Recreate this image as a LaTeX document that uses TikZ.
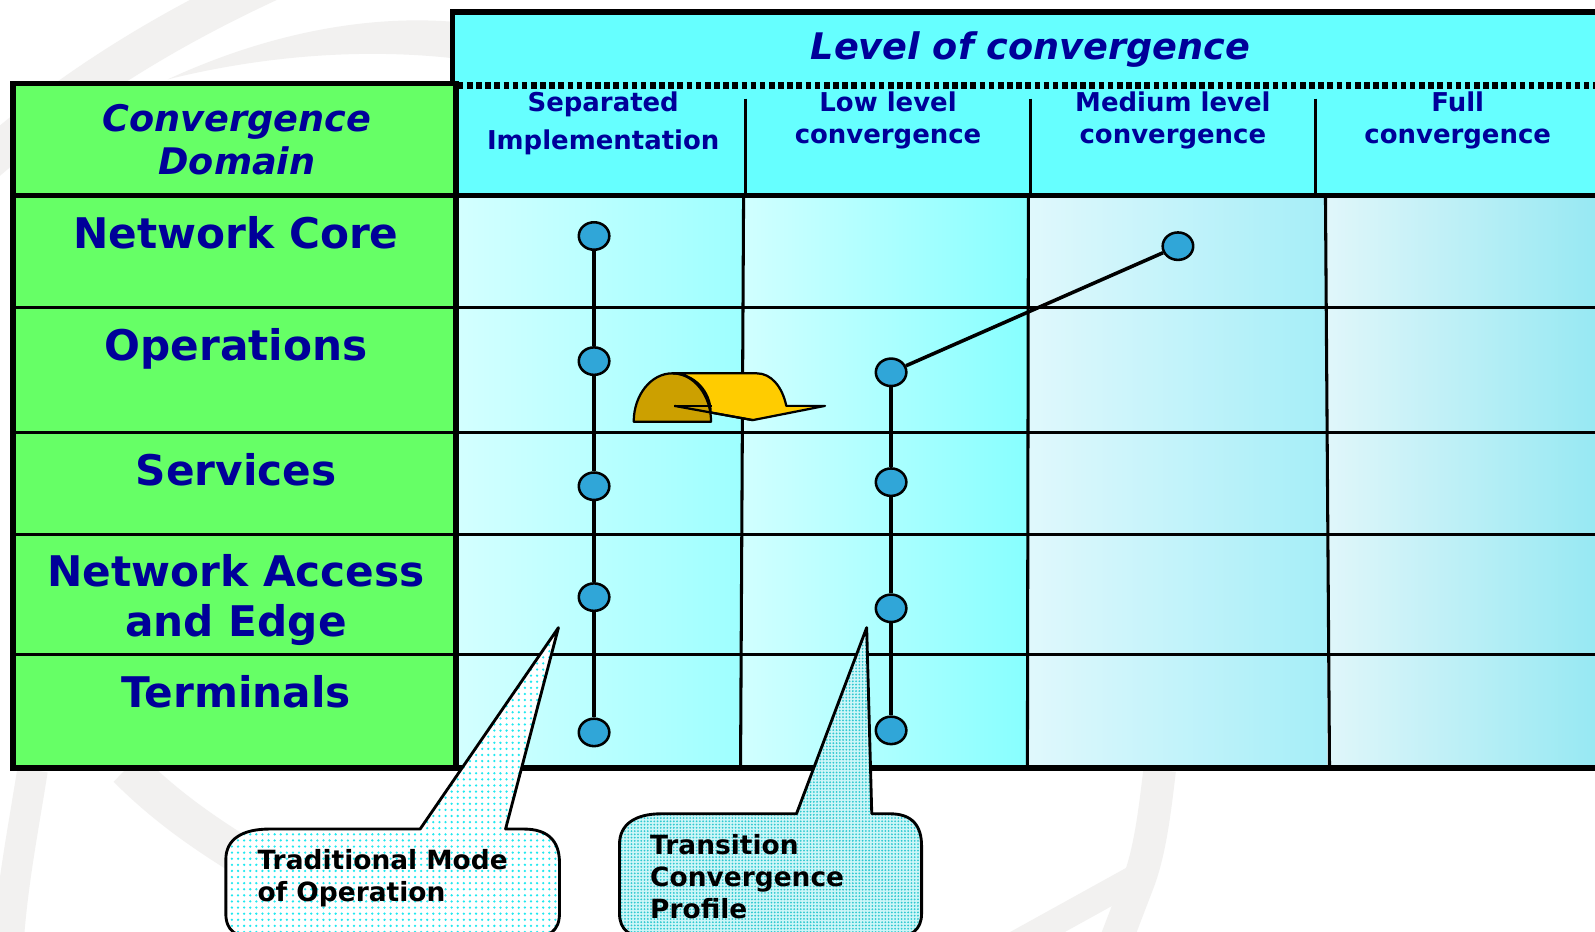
\documentclass[tikz,border=0pt]{standalone}
\usepackage{fontspec}
\setmainfont{DejaVu Sans}
\usetikzlibrary{shapes.geometric,patterns.meta}
\definecolor{navy}{HTML}{000099}
\definecolor{hdr}{HTML}{66FFFF}
\definecolor{grn}{HTML}{66FF66}
\definecolor{dotblue}{HTML}{30A6D8}
\definecolor{golddark}{HTML}{CCA000}
\definecolor{goldlight}{HTML}{FFCC00}
\definecolor{wm}{HTML}{F2F1F0}
\definecolor{cya}{HTML}{20E8F0}
\definecolor{cyb}{HTML}{30C8D0}
\newcommand{\mylines}[1]{\begin{tabular}[t]{@{}c@{}}#1\end{tabular}}
\newcommand{\mylinesl}[1]{\begin{tabular}[t]{@{}l@{}}#1\end{tabular}}
\tikzset{
  dot/.style={ellipse, draw=black, line width=2.5, fill=dotblue, minimum width=30, minimum height=27, inner sep=0},
  conn/.style={line width=3.5, black},
  thickb/.style={line width=5.5, black, line cap=rect},
  thinl/.style={line width=3, black},
  rowlab/.style={anchor=base, inner sep=0, text=navy, font=\fontsize{41.5}{49}\selectfont\bfseries},
  collab/.style={anchor=base, inner sep=0, text=navy, font=\fontsize{25.5}{31}\selectfont\bfseries},
  calltxt/.style={anchor=base west, inner sep=0, text=black, font=\fontsize{26}{31.5}\selectfont\bfseries},
  wmark/.style={draw=wm, line cap=butt},
  outl/.style={line width=2.2, black, line join=round}
}
\begin{document}
\begin{tikzpicture}[x=1pt,y=-1pt]
\useasboundingbox (0,0) rectangle (1568,916.2);
\clip (0,0) rectangle (1568,916.2);
\fill[white] (0,0) rectangle (1568,916.2);
% watermark
\draw[wmark, line width=38] (-20,165) .. controls (60,95) and (150,35) .. (270,-20);
\fill[wm] (165,78) .. controls (280,25) and (380,15) .. (452,22) -- (452,58) .. controls (370,48) and (270,52) .. (165,78) -- cycle;
\draw[wmark, line width=30] (32,757) .. controls (22,820) and (12,870) .. (8,930);
\draw[wmark, line width=38] (125,755) .. controls (160,790) and (195,815) .. (235,840);
\draw[wmark, line width=32] (1140,757) .. controls (1135,800) and (1130,840) .. (1118,870) -- (1095,930);
\draw[wmark, line width=26] (1118,862) -- (995,930);
% header fills
\fill[hdr] (445,12) rectangle (1580,192);
\fill[grn] (13,82) rectangle (448,755);
% body columns
\shade[left color=cyan!17, right color=cyan!38] (448,192) rectangle (730,755);
\shade[left color=cyan!18, right color=cyan!47] (730,192) rectangle (1010,755);
\shade[left color={rgb,255:red,224;green,248;blue,252}, right color={rgb,255:red,165;green,238;blue,248}] (1010,192) rectangle (1305,755);
\shade[left color={rgb,255:red,224;green,246;blue,250}, right color={rgb,255:red,148;green,232;blue,242}] (1305,192) rectangle (1580,755);
% inner lines
\foreach \yy in {302,425,525,643} \draw[thinl] (13,\yy) -- (1580,\yy);
\draw[thinl] (733,97) -- (733,192);
\draw[thinl] (1013,97) -- (1013,192);
\draw[thinl] (1293,97) -- (1293,192);
\draw[thinl] (731,192) -- (728,755);
\draw[thinl] (1011,192) -- (1010,755);
\draw[thinl] (1303,192) -- (1307,755);
% borders
\draw[line width=6, dash pattern=on 5.5 off 3.5] (450,84) -- (1580,84);
\draw[thickb] (1580,12) -- (445,12) -- (445,82);
\draw[thickb] (1580,755) -- (13,755) -- (13,82) -- (448,82) -- (448,755);
\draw[line width=5] (13,192) -- (1580,192);
% texts
\node[anchor=base, inner sep=0, text=navy, font=\fontsize{36}{40}\selectfont\bfseries\itshape] (lev) at (1013,58) {Level of convergence};
\node[anchor=base, inner sep=0, text=navy, font=\fontsize{36}{43}\selectfont\bfseries\itshape] (dom) at (233,129) {\mylines{Convergence\\Domain}};
\node[collab, font=\fontsize{25.5}{37}\selectfont\bfseries] (c1) at (593,110) {\mylines{Separated\\Implementation}};
\node[collab] (c2) at (873,110) {\mylines{Low level\\convergence}};
\node[collab] (c3) at (1153,110) {\mylines{Medium level\\convergence}};
\node[collab] (c4) at (1433,110) {\mylines{Full\\convergence}};
\node[rowlab] (r1) at (232,244) {Network Core};
\node[rowlab] (r2) at (232,354) {Operations};
\node[rowlab] (r3) at (232,477) {Services};
\node[rowlab] (r4) at (232,577) {\mylines{Network Access\\and Edge}};
\node[rowlab] (r5) at (232,696) {Terminals};
% profiles
\node[dot] (a1) at (584,232) {};
\node[dot] (a2) at (584,355) {};
\node[dot] (a3) at (584,478) {};
\node[dot] (a4) at (584,587) {};
\node[dot] (a5) at (584,720) {};
\node[dot] (b1) at (876,366) {};
\node[dot] (b2) at (876,474) {};
\node[dot] (b3) at (876,598) {};
\node[dot] (b4) at (876,718) {};
\node[dot] (cc) at (1158,242) {};
\draw[conn] (a1) -- (a2);
\draw[conn] (a2) -- (a3);
\draw[conn] (a3) -- (a4);
\draw[conn] (a4) -- (a5);
\draw[conn] (b1) -- (b2);
\draw[conn] (b2) -- (b3);
\draw[conn] (b3) -- (b4);
\draw[conn] (b1) -- (cc);
% curved arrow
\draw[outl, fill=golddark] (623,414.5) .. controls (623,388.3) and (640,367) .. (661,367) .. controls (682,367) and (699,388.3) .. (699,414.5) -- cycle;
\draw[outl, fill=goldlight] (661,367) -- (744,367) .. controls (758,367) and (769,380) .. (773,399) -- (811,399) -- (740,413) -- (698.5,405.5) .. controls (699,385) and (682,367) .. (661,367) -- cycle;
\draw[outl] (663,399) -- (700,399);
\draw[outl] (663,399) -- (740,413);
% callouts
\draw[line width=2.8, line join=round, preaction={fill=white}, pattern={Dots[distance=6pt, radius=1.25pt]}, pattern color=cya]
  (222,845) .. controls (222,825) and (238,815) .. (265,815) -- (413,815) -- (549,617) -- (497,815) -- (515,815)
  .. controls (540,815) and (550,828) .. (550,848) -- (550,898) .. controls (550,915) and (540,922) .. (520,922)
  -- (252,922) .. controls (232,922) and (222,915) .. (222,898) -- cycle;
\draw[line width=2.8, line join=round, preaction={fill={rgb,255:red,205;green,246;blue,248}}, pattern={Dots[distance=3.2pt, radius=1pt]}, pattern color=cyb]
  (609,830) .. controls (609,810) and (625,800) .. (650,800) -- (783,800) -- (852,617) -- (857,800) -- (875,800)
  .. controls (897,800) and (906,812) .. (906,832) -- (906,898) .. controls (906,914) and (896,922) .. (876,922)
  -- (639,922) .. controls (619,922) and (609,914) .. (609,898) -- cycle;
\node[calltxt] (t1) at (253,855) {\mylinesl{Traditional Mode\\of Operation}};
\node[calltxt] (t2) at (639,840) {\mylinesl{Transition\\Convergence\\Profile}};
\end{tikzpicture}
\end{document}
